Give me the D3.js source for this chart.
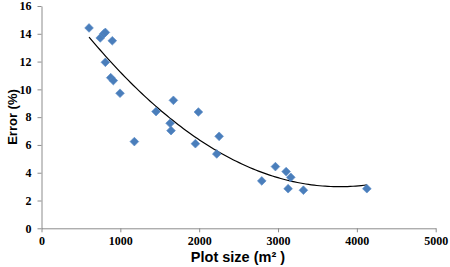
<!DOCTYPE html>
<html>
<head>
<meta charset="utf-8">
<script src="https://cdn.jsdelivr.net/npm/d3@7"></script>
<style>
  body { margin: 0; background: #fff; }
  svg { display: block; }
  .tick text { font-family: "Liberation Serif", "Times New Roman", "DejaVu Serif", serif; font-weight: bold; font-size: 12px; }
</style>
</head>
<body>
<svg width="450" height="267"></svg>
<script>
// data
const plotSize = [603, 745, 790, 810, 898, 810, 878, 911, 996, 1178, 1453, 1673, 1631, 1643, 1990, 1952, 2253, 2223, 2794, 2967, 3103, 3162, 3128, 3322, 4127]
const errorPct = [14.42, 13.7, 14.0, 14.1, 13.5, 11.95, 10.84, 10.63, 9.72, 6.24, 8.4, 9.21, 7.56, 7.03, 8.37, 6.09, 6.62, 5.35, 3.41, 4.44, 4.08, 3.67, 2.85, 2.74, 2.85]
const xTicks = [0, 1000, 2000, 3000, 4000, 5000]
const yTicks = [0, 2, 4, 6, 8, 10, 12, 14, 16]

const svg = d3.select('svg')
const padLeft = 41.5, padRight = 435.7, padTop = 6, padBottom = 228.3

//scales
const x = d3.scaleLinear().domain([0, 5000]).range([padLeft, padRight])
const y = d3.scaleLinear().domain([0, 16]).range([padBottom, padTop])

//axes
svg.append('g')
    .attr('transform', 'translate(0,' + padBottom + ')')
    .call(d3.axisBottom(x).tickValues(xTicks).tickFormat(d3.format('d')).tickSize(4).tickSizeOuter(0).tickPadding(4))
svg.append('g')
    .attr('transform', 'translate(' + padLeft + ',0)')
    .call(d3.axisLeft(y).tickValues(yTicks).tickFormat(d3.format('d')).tickSize(4).tickSizeOuter(0).tickPadding(6))

svg.selectAll('g').attr('font-family', null).attr('font-size', null)
svg.selectAll('.domain, .tick line').attr('stroke', '#8c8c8c')
svg.selectAll('.tick text').attr('fill', '#000')

//quadratic trend line (least squares, like the spreadsheet trendline)
function quadFit(xs, ys) {
    let s = [0, 0, 0, 0, 0], t = [0, 0, 0]
    xs.forEach((xv, i) => {
        const u = xv / 1000
        for (let k = 0; k < 5; k++) s[k] += Math.pow(u, k)
        for (let k = 0; k < 3; k++) t[k] += ys[i] * Math.pow(u, k)
    })
    const m = [[s[0], s[1], s[2], t[0]], [s[1], s[2], s[3], t[1]], [s[2], s[3], s[4], t[2]]]
    for (let i = 0; i < 3; i++) {
        for (let j = i + 1; j < 3; j++) {
            const f = m[j][i] / m[i][i]
            for (let k = i; k < 4; k++) m[j][k] -= f * m[i][k]
        }
    }
    const c = [0, 0, 0]
    for (let i = 2; i >= 0; i--) {
        let v = m[i][3]
        for (let k = i + 1; k < 3; k++) v -= m[i][k] * c[k]
        c[i] = v / m[i][i]
    }
    return xv => c[0] + c[1] * (xv / 1000) + c[2] * Math.pow(xv / 1000, 2)
}
const fit = quadFit(plotSize, errorPct)
const x0 = d3.min(plotSize), x1 = d3.max(plotSize)
const curve = d3.range(0, 101).map(i => x0 + (x1 - x0) * i / 100)

svg.append('path')
    .datum(curve)
    .attr('fill', 'none')
    .attr('stroke', '#000')
    .attr('stroke-width', 1.2)
    .attr('d', d3.line().x(d => x(d)).y(d => y(fit(d))))

//points
svg.append('g')
    .selectAll('path')
    .data(plotSize)
    .enter()
    .append('path')
    .attr('d', d3.symbol(d3.symbolSquare, 38))
    .attr('transform', (d, i) => 'translate(' + x(d) + ',' + y(errorPct[i]) + ') rotate(45)')
    .attr('fill', '#4a7ebb')
    .attr('stroke', '#5b8cc8')
    .attr('stroke-width', 0.6)

//labels
svg.append('text')
    .attr('x', 238)
    .attr('y', 262)
    .attr('text-anchor', 'middle')
    .style('font-family', '"Liberation Sans", Arial, sans-serif')
    .style('font-weight', 'bold')
    .style('font-size', '14.5px')
    .text('Plot size (m² )')

svg.append('text')
    .attr('transform', 'translate(17,117) rotate(-90)')
    .attr('text-anchor', 'middle')
    .style('font-family', '"Liberation Sans", Arial, sans-serif')
    .style('font-weight', 'bold')
    .style('font-size', '13px')
    .text('Error (%)')
</script>
</body>
</html>
